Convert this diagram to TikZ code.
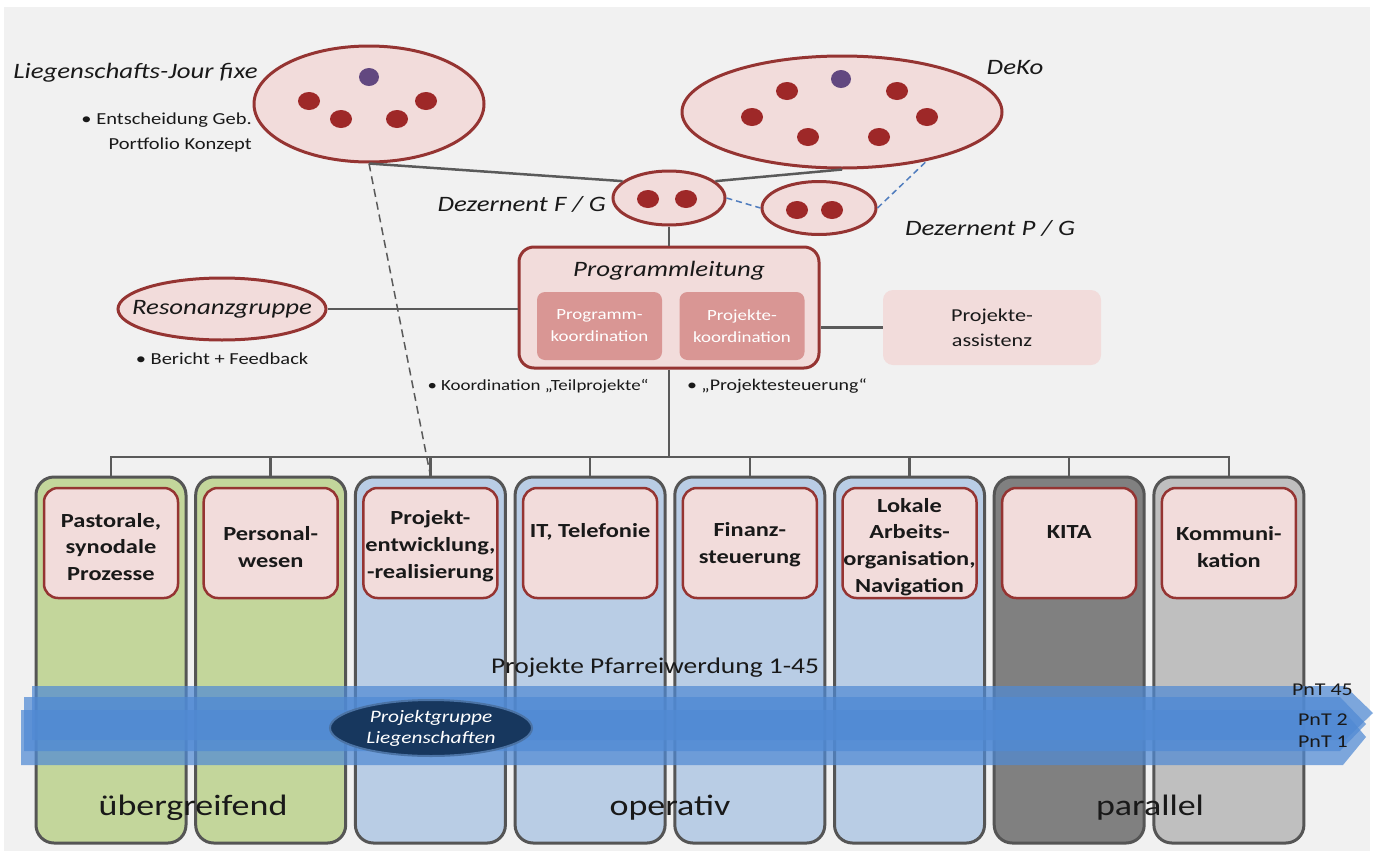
\documentclass[tikz,border=0pt]{standalone}
\usepackage{fontspec}
\setmainfont{Carlito}[FakeStretch=1.22]
\usetikzlibrary{shapes.geometric}
\definecolor{bggray}{RGB}{241,241,241}
\definecolor{redb}{RGB}{149,52,50}
\definecolor{pinkf}{RGB}{242,220,219}
\definecolor{dotred}{RGB}{158,40,40}
\definecolor{dotpurple}{RGB}{98,72,128}
\definecolor{linegray}{RGB}{90,90,90}
\definecolor{colb}{RGB}{85,85,85}
\definecolor{greenf}{RGB}{195,214,155}
\definecolor{bluef}{RGB}{185,205,229}
\definecolor{dgrayf}{RGB}{128,128,128}
\definecolor{lgrayf}{RGB}{191,191,191}
\definecolor{koordf}{RGB}{217,150,148}
\definecolor{arrowblue}{RGB}{80,138,212}
\definecolor{navy}{RGB}{23,55,94}
\definecolor{navyb}{RGB}{75,115,165}
\definecolor{dashblue}{RGB}{80,125,190}
\definecolor{txt}{RGB}{25,25,25}
\begin{document}
\begin{tikzpicture}[x=1pt,y=-1pt,
  redell/.style={ellipse, draw=redb, line width=3pt, fill=pinkf, inner sep=0pt},
  colbox/.style={rectangle, rounded corners=18pt, draw=colb, line width=3pt, minimum width=150pt, minimum height=366pt, inner sep=0pt},
  ibox/.style={rectangle, rounded corners=14pt, draw=redb, line width=2.5pt, fill=pinkf, minimum width=134pt, minimum height=110pt, inner sep=0pt},
  coltxt/.style={align=center, font=\fontsize{20}{26.8}\selectfont\bfseries, text=txt, inner sep=0pt},
  conn/.style={draw=linegray, line width=2.5pt},
  itlabel/.style={font=\fontsize{22}{26}\selectfont\itshape, text=txt, inner sep=0pt},
  bullet/.style={font=\fontsize{16.8}{25}\selectfont, text=txt, inner sep=0pt},
  koord/.style={rectangle, rounded corners=8pt, fill=koordf, minimum width=125pt, minimum height=68pt, inner sep=0pt, align=center, text=white, font=\fontsize{15.5}{22}\selectfont},
  arr/.style={fill=arrowblue, fill opacity=0.72},
  biglabel/.style={font=\fontsize{29.5}{34}\selectfont, text=txt, inner sep=0pt},
  pnt/.style={font=\fontsize{18}{20}\selectfont, text=txt, inner sep=0pt, anchor=east}
]
\useasboundingbox (0,0) rectangle (1374,854);
\fill[white] (0,0) rectangle (1374,854);
\fill[bggray] (4,7) rectangle (1370,851);

% ---- columns ----
\node[colbox, fill=greenf] (c1) at (111,660) {};
\node[colbox, fill=greenf] (c2) at (270.7,660) {};
\node[colbox, fill=bluef] (c3) at (430.4,660) {};
\node[colbox, fill=bluef] (c4) at (590.1,660) {};
\node[colbox, fill=bluef] (c5) at (749.8,660) {};
\node[colbox, fill=bluef] (c6) at (909.5,660) {};
\node[colbox, fill=dgrayf] (c7) at (1069.2,660) {};
\node[colbox, fill=lgrayf] (c8) at (1228.9,660) {};

% inner boxes
\node[ibox] (b1) at (111,543) {};
\node[ibox] (b2) at (270.7,543) {};
\node[ibox] (b3) at (430.4,543) {};
\node[ibox] (b4) at (590.1,543) {};
\node[ibox] (b5) at (749.8,543) {};
\node[ibox] (b6) at (909.5,543) {};
\node[ibox] (b7) at (1069.2,543) {};
\node[ibox] (b8) at (1228.9,543) {};
\node[coltxt] (t1) at (111,547) {Pastorale,\\synodale\\Prozesse};
\node[coltxt] (t2) at (270.7,547) {Personal-\\wesen};
\node[coltxt] (t3) at (430.4,546) {Projekt-\\entwicklung,\\-realisierung};
\node[coltxt] (t4) at (590.1,532) {IT, Telefonie};
\node[coltxt] (t5) at (749.8,545) {Finanz-\\steuerung};
\node[coltxt] (t6) at (909.5,547) {Lokale\\Arbeits-\\organisation,\\Navigation};
\node[coltxt] (t7) at (1069.2,532) {KITA};
\node[coltxt] (t8) at (1228.9,547) {Kommuni-\\kation};

% ---- top ellipses ----
\node[redell, minimum width=230pt, minimum height=116pt] (jf) at (369,104) {};
\fill[dotpurple] (369,77) ellipse (10pt and 9pt);
\foreach \p in {(309,101),(341,119),(397,119),(426,101)} \fill[dotred] \p ellipse (11pt and 9pt);

\node[redell, minimum width=320pt, minimum height=112pt] (deko) at (842,112) {};
\fill[dotpurple] (841,79) ellipse (10pt and 9pt);
\foreach \p in {(787,91),(897,91),(752,117),(927,117),(808,137),(879,137)} \fill[dotred] \p ellipse (11pt and 9pt);

\node[redell, minimum width=112pt, minimum height=54pt] (dfg) at (669,198) {};
\foreach \p in {(648,199),(686,199)} \fill[dotred] \p ellipse (11pt and 9pt);
\node[redell, minimum width=114pt, minimum height=53pt] (dpg) at (819,208) {};
\foreach \p in {(797,210),(832,210)} \fill[dotred] \p ellipse (11pt and 9pt);

\node[itlabel, anchor=east] (ljf) at (258,73) {Liegenschafts-Jour fixe};
\node[bullet, align=right, anchor=east] (lent) at (252,133) {• Entscheidung Geb.\\Portfolio Konzept};
\node[itlabel] (ldeko) at (1015,68) {DeKo};
\node[itlabel, anchor=east] (ldfg) at (606,204) {Dezernent F / G};
\node[itlabel] (ldpg) at (990,228) {Dezernent P / G};

% ---- Programmleitung ----
\node[rectangle, rounded corners=15pt, draw=redb, line width=3pt, fill=pinkf, minimum width=300pt, minimum height=121pt, inner sep=0pt] (pl) at (669,307.5) {};
\node[itlabel] (plt) at (669,271) {Programmleitung};
\node[koord] (pk1) at (599.5,326) {Programm-\\koordination};
\node[koord] (pk2) at (742,326) {Projekte-\\koordination};
\node[rectangle, rounded corners=10pt, fill=pinkf, minimum width=218pt, minimum height=75pt, inner sep=0pt, align=center, text=txt, font=\fontsize{18.2}{25}\selectfont] (assist) at (992,327.5) {Projekte-\\assistenz};

\node[redell, minimum width=208pt, minimum height=62pt] (reso) at (222,309) {};
\node[itlabel] (resot) at (222,309) {Resonanzgruppe};
\node[bullet] (lber) at (222,359) {• Bericht + Feedback};
\node[bullet, font=\fontsize{15.5}{20}\selectfont] (lkoo) at (538,386) {• Koordination „Teilprojekte“};
\node[bullet, font=\fontsize{16.3}{20}\selectfont] (lste) at (777,386) {• „Projektesteuerung“};

% ---- connectors ----
\draw[conn] (jf.south) -- (dfg.160);
\draw[conn] (dfg.20) -- (deko.south);
\draw[dashblue, line width=1.5pt, dash pattern=on 6pt off 4pt] (dfg.east) -- (dpg.west);
\draw[dashblue, line width=1.5pt, dash pattern=on 6pt off 4pt] (dpg.east) -- (deko.-30);
\draw[conn] (dfg.south) -- (pl.north);
\draw[conn] (reso.east) -- (reso.east -| pl.west);
\draw[conn] (assist.west) -- (assist.west -| pl.east);
\coordinate (bus) at (669,457);
\draw[conn] (pl.south) -- (bus);
\foreach \i in {1,...,8} \draw[conn] (bus) -| (c\i.north);
\draw[linegray, line width=1.5pt, dash pattern=on 8pt off 5pt] (jf.south) -- (c3.north);

% ---- project arrows ----
\node[font=\fontsize{22.5}{28}\selectfont, text=txt, inner sep=0pt] (ppw) at (655,668) {Projekte Pfarreiwerdung 1-45};
\fill[arr] (32,686) -- (1345,686) -- (1373,713) -- (1345,740) -- (32,740) -- cycle;
\fill[arr] (24,697) -- (1340,697) -- (1366,724) -- (1340,751) -- (24,751) -- cycle;
\fill[arr] (21,710) -- (1343,710) -- (1366,737) -- (1343,765) -- (21,765) -- cycle;
\node[pnt] (p45) at (1353,690) {PnT 45};
\node[pnt] (p2) at (1348,720) {PnT 2};
\node[pnt] (p1) at (1348,742) {PnT 1};
\node[ellipse, fill=navy, draw=navyb, line width=2pt, minimum width=202pt, minimum height=56pt, inner sep=0pt] (pgl) at (431,728) {};
\node[align=center, text=white, inner sep=0pt, font=\fontsize{17.5}{21}\selectfont\itshape] (pglt) at (431,728) {Projektgruppe\\Liegenschaften};

% ---- bottom labels ----
\node[biglabel] (lue) at (193,808) {übergreifend};
\node[biglabel] (lop) at (670,808) {operativ};
\node[biglabel] (lpa) at (1150,808) {parallel};
\end{tikzpicture}
\end{document}
